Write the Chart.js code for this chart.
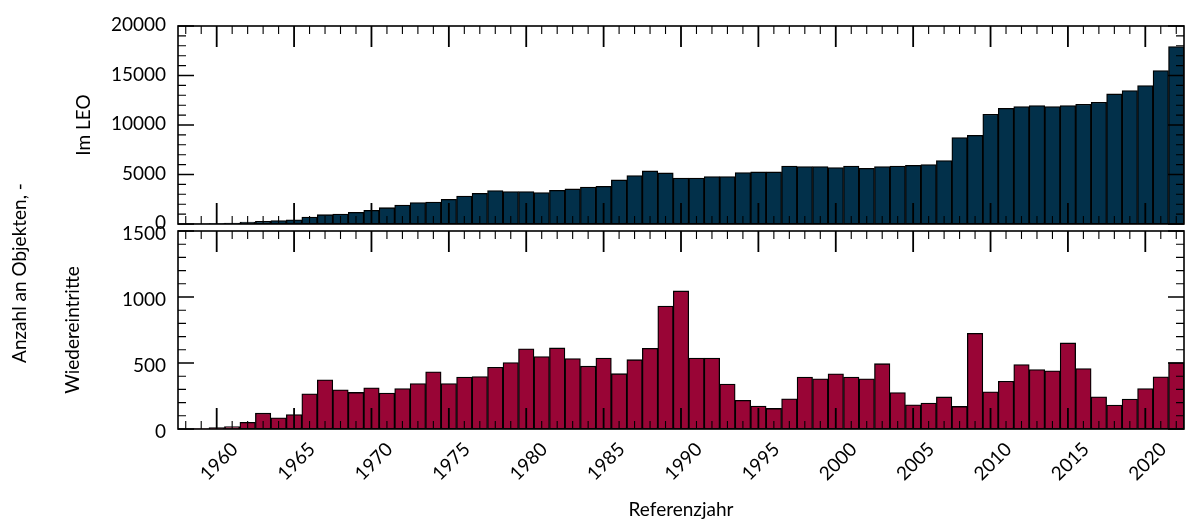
<!DOCTYPE html>
<html lang="de">
<head>
<meta charset="utf-8">
<title>Objekte im LEO und Wiedereintritte</title>
<script src="https://cdn.jsdelivr.net/npm/chart.js@4.4.1/dist/chart.umd.min.js"></script>
<style>
  html, body { margin: 0; padding: 0; background: #fff; }
  #wrap { position: relative; width: 1187px; height: 523px; }
  #wrap canvas { position: absolute; left: 0; top: 0; }
</style>
</head>
<body>
<div id="wrap">
  <canvas id="leoChart" width="1187" height="523"></canvas>
  <canvas id="reentryChart" width="1187" height="523"></canvas>
</div>
<script>
// Reference years (one bar per year)
const years = [
  1958, 1959, 1960, 1961, 1962, 1963, 1964, 1965, 1966, 1967, 1968, 1969,
  1970, 1971, 1972, 1973, 1974, 1975, 1976, 1977, 1978, 1979,
  1980, 1981, 1982, 1983, 1984, 1985, 1986, 1987, 1988, 1989,
  1990, 1991, 1992, 1993, 1994, 1995, 1996, 1997, 1998, 1999,
  2000, 2001, 2002, 2003, 2004, 2005, 2006, 2007, 2008, 2009,
  2010, 2011, 2012, 2013, 2014, 2015, 2016, 2017, 2018, 2019,
  2020, 2021, 2022
];

// Objects in low earth orbit
const leoCounts = [
  0, 5, 30, 100, 200, 280, 350, 430, 710, 940, 1010, 1180,
  1380, 1650, 1920, 2160, 2220, 2490, 2830, 3100, 3370, 3270,
  3270, 3170, 3400, 3540, 3740, 3810, 4450, 4890, 5360, 5160,
  4650, 4650, 4790, 4790, 5190, 5260, 5260, 5860, 5800, 5800,
  5700, 5860, 5630, 5800, 5860, 5930, 6000, 6400, 8730, 8960,
  11090, 11690, 11860, 11960, 11860, 11960, 12100, 12300, 13140, 13480,
  13990, 15500, 17930
];

// Re-entries per year
const reentryCounts = [
  0, 2, 10, 18, 50, 120, 85, 110, 267, 373, 297, 277,
  312, 272, 307, 345, 433, 345, 393, 398, 468, 504,
  607, 549, 614, 534, 476, 538, 419, 525, 611, 932,
  1046, 538, 538, 340, 217, 174, 156, 229, 393, 380,
  418, 393, 380, 495, 276, 184, 196, 243, 171, 725,
  282, 362, 488, 451, 441, 652, 458, 244, 181, 227,
  307, 395, 504
];

const leoTicks = [0, 5000, 10000, 15000, 20000];
const reentryTicks = [0, 500, 1000, 1500];

Chart.defaults.font.family = 'Lato, "DejaVu Sans", sans-serif';
Chart.defaults.font.size = 19;
Chart.defaults.color = '#000';

const PLOT_LEFT = 178;

// box frame plus inward ticks on all four sides
const frameTicks = {
  id: 'frameTicks',
  afterDatasetsDraw(chart, args, opts) {
    const { ctx, chartArea: a, scales } = chart;
    const xs = scales.x, ys = scales.y;
    ctx.save();
    ctx.strokeStyle = '#000';

    // year ticks, long every 5 years
    years.forEach((yr, i) => {
      const px = xs.getPixelForValue(i);
      const major = yr % 5 === 0;
      const len = major ? 21 : 8;
      ctx.lineWidth = major ? 1.8 : 1.1;
      ctx.beginPath();
      ctx.moveTo(px, a.top); ctx.lineTo(px, a.top + len);
      ctx.moveTo(px, a.bottom); ctx.lineTo(px, a.bottom - len);
      ctx.stroke();
    });

    // value ticks
    for (let v = ys.min; v <= ys.max + 1e-6; v += opts.minor) {
      const py = ys.getPixelForValue(v);
      const major = Math.abs(v % opts.major) < 1e-6;
      const len = major ? 16 : 8;
      ctx.lineWidth = major ? 1.6 : 1.1;
      ctx.beginPath();
      ctx.moveTo(a.left, py); ctx.lineTo(a.left + len, py);
      ctx.moveTo(a.right, py); ctx.lineTo(a.right - len, py);
      ctx.stroke();
    }

    ctx.lineWidth = 1.6;
    ctx.strokeRect(a.left, a.top, a.right - a.left, a.bottom - a.top);
    ctx.restore();
  }
};

// shared y label on the far left
const sideLabel = {
  id: 'sideLabel',
  afterDraw(chart, args, opts) {
    if (!opts.text) return;
    const ctx = chart.ctx;
    ctx.save();
    ctx.translate(opts.x, opts.y);
    ctx.rotate(-Math.PI / 2);
    ctx.font = '19px ' + Chart.defaults.font.family;
    ctx.fillStyle = '#000';
    ctx.textAlign = 'center';
    ctx.textBaseline = 'middle';
    ctx.fillText(opts.text, 0, 0);
    ctx.restore();
  }
};

function barDataset(values, color) {
  return {
    data: values,
    backgroundColor: color,
    borderColor: '#000',
    borderWidth: 1.3,
    borderSkipped: false,
    categoryPercentage: 1.0,
    barPercentage: 1.0
  };
}

function yScale(ticks, title, titlePad, shift) {
  return {
    min: ticks[0],
    max: ticks[ticks.length - 1],
    grid: { display: false, drawTicks: false },
    border: { display: false },
    ticks: {
      stepSize: ticks[1] - ticks[0],
      padding: 12,
      labelOffset: shift,
      color: '#000',
      callback: v => String(v)
    },
    title: { display: true, text: title, padding: { top: titlePad, bottom: 0 }, color: '#000' },
    afterFit(scale) { scale.width = PLOT_LEFT; }
  };
}

// Top panel: objects in LEO
new Chart(document.getElementById('leoChart'), {
  type: 'bar',
  data: { labels: years, datasets: [barDataset(leoCounts, '#02304a')] },
  plugins: [frameTicks],
  options: {
    responsive: false,
    animation: false,
    layout: { padding: { left: 0, right: 3, top: 26, bottom: 299 } },
    scales: {
      x: { display: false, offset: true },
      y: yScale(leoTicks, 'Im LEO', 72, -1)
    },
    plugins: {
      legend: { display: false },
      tooltip: { enabled: false },
      frameTicks: { minor: 1000, major: 5000 }
    }
  }
});

// Bottom panel: re-entries
new Chart(document.getElementById('reentryChart'), {
  type: 'bar',
  data: { labels: years, datasets: [barDataset(reentryCounts, '#990536')] },
  plugins: [frameTicks, sideLabel],
  options: {
    responsive: false,
    animation: false,
    layout: { padding: { left: 0, right: 3, top: 231, bottom: 0 } },
    scales: {
      x: {
        offset: true,
        grid: { display: false, drawTicks: false },
        border: { display: false },
        ticks: {
          autoSkip: false,
          minRotation: 45,
          maxRotation: 45,
          padding: 9,
          labelOffset: 18,
          color: '#000',
          callback(value, index) {
            return years[index] % 5 === 0 ? String(years[index]) : '';
          }
        },
        title: { display: true, text: 'Referenzjahr', padding: { top: 0, bottom: 2 }, color: '#000' },
        afterFit(scale) {
          scale.height = 94;
          scale.paddingLeft = 0;
          scale.paddingRight = 0;
        }
      },
      y: yScale(reentryTicks, 'Wiedereintritte', 61, 3)
    },
    plugins: {
      legend: { display: false },
      tooltip: { enabled: false },
      frameTicks: { minor: 100, major: 500 },
      sideLabel: { text: 'Anzahl an Objekten, -', x: 20, y: 273 }
    }
  }
});
</script>
</body>
</html>
